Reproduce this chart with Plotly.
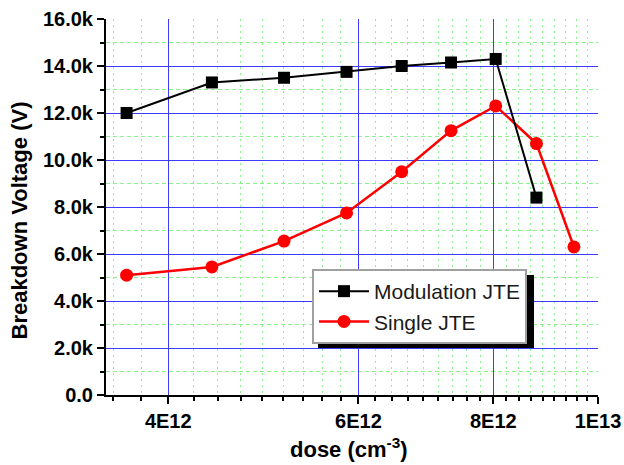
import plotly.graph_objects as go

# ---- data ----
dose = [3.66e12, 4.39e12, 5.12e12, 5.85e12, 6.58e12, 7.31e12, 8.04e12, 8.77e12, 9.50e12]
modulation_dose = dose[:8]
modulation_jte = [12000, 13300, 13500, 13750, 14000, 14150, 14300, 8400]
single_dose = dose
single_jte = [5100, 5450, 6550, 7750, 9500, 11250, 12300, 10700, 6300]

x_tick_vals = [4e12, 6e12, 8e12, 1e13]
x_tick_text = ["4E12", "6E12", "8E12", "1E13"]
y_tick_vals = [0, 2000, 4000, 6000, 8000, 10000, 12000, 14000, 16000]
y_tick_text = ["0.0", "2.0k", "4.0k", "6.0k", "8.0k", "10.0k", "12.0k", "14.0k", "16.0k"]
y_minor_vals = [1000, 3000, 5000, 7000, 9000, 11000, 13000, 15000]

# minor x ticks: 8 subdivisions between labelled majors (Origin style)
x_minor_vals = []
for base in [2e12, 4e12, 6e12, 8e12]:
    for k in range(1, 9):
        v = base + k * 2e12 / 9
        if v > 3.5e12:
            x_minor_vals.append(v)

W, H = 624, 465
L, R, T, B = 106, 26, 19, 70
pw, ph = W - L - R, H - T - B

def px_x(p):
    return (p - L) / pw

def px_y(p):
    return (H - B - p) / ph

FONT = "Arial, Liberation Sans, sans-serif"
GREEN = "rgb(140,240,140)"
BLUE = "rgb(60,60,255)"

fig = go.Figure()
fig.add_trace(go.Scatter(
    x=single_dose, y=single_jte, name="Single JTE", mode="lines+markers",
    line=dict(color="#ff0000", width=2.5),
    marker=dict(symbol="circle", size=13, color="#ff0000"),
    legendrank=2,
))
fig.add_trace(go.Scatter(
    x=modulation_dose, y=modulation_jte, name="Modulation JTE", mode="lines+markers",
    line=dict(color="#000000", width=2),
    marker=dict(symbol="square", size=12, color="#000000"),
    legendrank=1,
))

fig.update_xaxes(
    type="log", range=[12.5444, 13.0], automargin=False,
    tickmode="array", tickvals=x_tick_vals, ticktext=x_tick_text,
    ticks="outside", ticklen=7, tickwidth=2, tickcolor="black",
    showline=True, linewidth=2, linecolor="black",
    showgrid=True, gridcolor=BLUE, gridwidth=1.2,
    zeroline=False,
    tickfont=dict(family=FONT, size=20, color="black", weight="bold"),
    minor=dict(tickmode="array", tickvals=x_minor_vals, ticks="outside", ticklen=4,
               tickwidth=1.5, tickcolor="black", showgrid=True, gridcolor=GREEN,
               gridwidth=1, griddash="2px,4px"),
)
fig.update_yaxes(
    range=[0, 16000], automargin=False,
    tickmode="array", tickvals=y_tick_vals, ticktext=y_tick_text,
    ticks="outside", ticklen=7, tickwidth=2, tickcolor="black",
    showline=True, linewidth=2, linecolor="black",
    showgrid=True, gridcolor=BLUE, gridwidth=1.2,
    zeroline=False,
    tickfont=dict(family=FONT, size=20, color="black", weight="bold"),
    minor=dict(tickmode="array", tickvals=y_minor_vals, ticks="outside", ticklen=4,
               tickwidth=1.5, tickcolor="black", showgrid=True, gridcolor=GREEN,
               gridwidth=1, griddash="4px,3px"),
)

# legend box geometry (pixels) used for the drop shadow
LEG_X, LEG_Y = 312, 269
LEG_W, LEG_H = 216, 73
SH = 6
fig.add_shape(type="rect", xref="paper", yref="paper",
              x0=px_x(LEG_X + SH), x1=px_x(LEG_X + LEG_W + SH),
              y0=px_y(LEG_Y + LEG_H + SH), y1=px_y(LEG_Y + SH),
              fillcolor="black", line=dict(width=0), layer="above")

fig.add_annotation(text="<b>Breakdown Voltage (V)</b>", xref="paper", yref="paper",
                   x=px_x(18.5), y=px_y(221), textangle=-90, showarrow=False,
                   xanchor="center", yanchor="middle",
                   font=dict(family=FONT, size=22, color="black"))
fig.add_annotation(text="<b>dose (cm<sup>-3</sup>)</b>", xref="paper", yref="paper",
                   x=px_x(349), y=px_y(448), showarrow=False,
                   xanchor="center", yanchor="middle",
                   font=dict(family=FONT, size=22, color="black"))

fig.update_layout(
    width=W, height=H,
    margin=dict(l=L, r=R, t=T, b=B, autoexpand=False),
    paper_bgcolor="white", plot_bgcolor="white",
    showlegend=True,
    legend=dict(x=px_x(LEG_X), y=px_y(LEG_Y), xanchor="left", yanchor="top",
                bgcolor="white", bordercolor="#a0a0a0", borderwidth=2,
                font=dict(family=FONT, size=21, color="#1a1a1a"),
                itemwidth=50, tracegroupgap=0),
)

fig.write_html("out.html", config={"displayModeBar": False},
               post_script="document.body.style.margin='0';document.body.style.overflow='hidden';")
